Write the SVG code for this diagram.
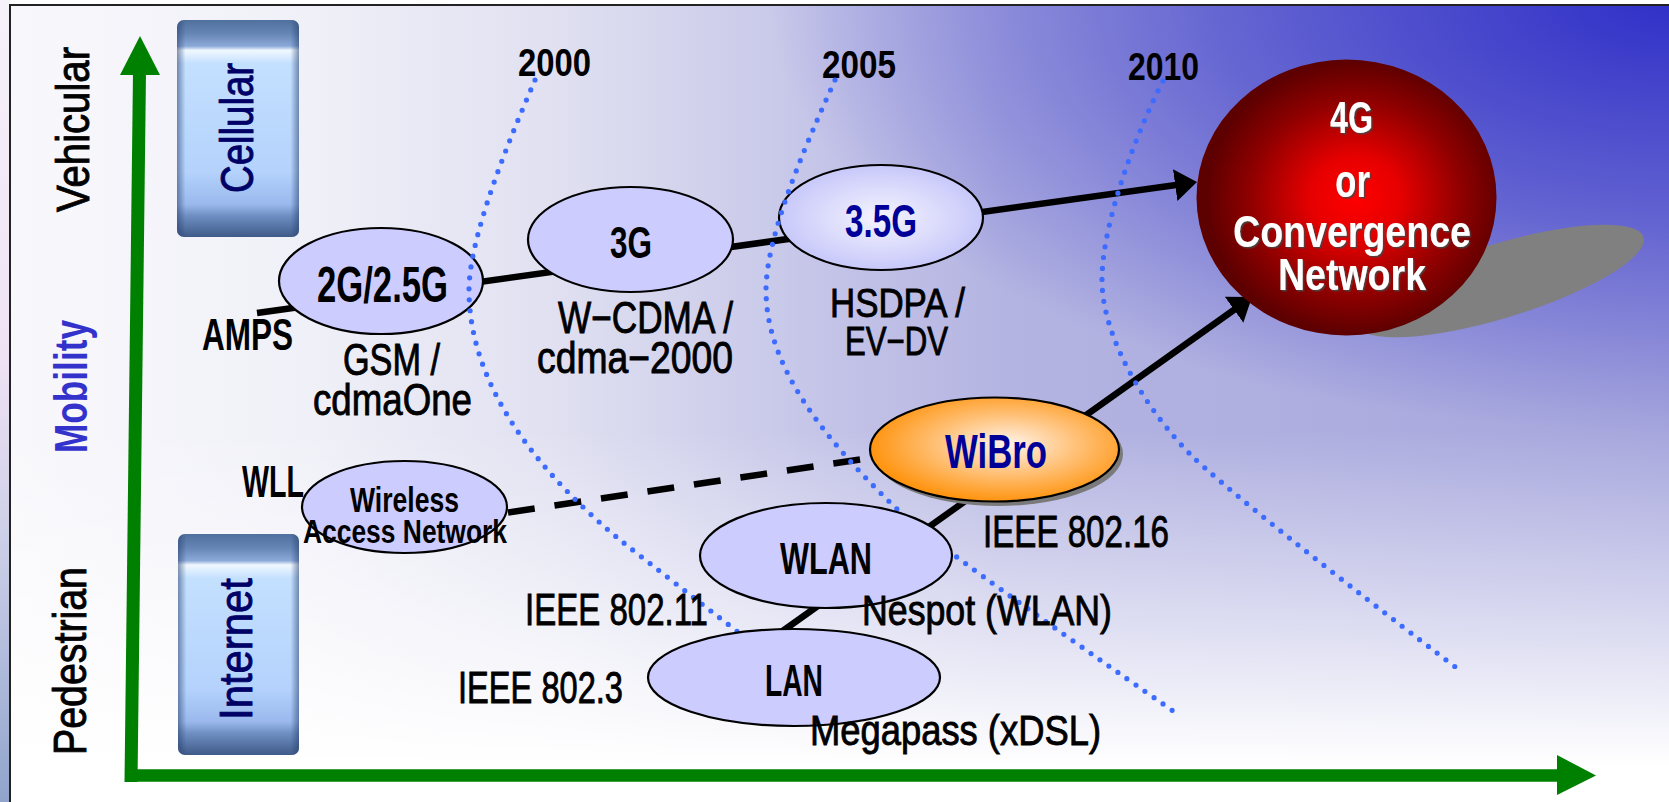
<svg xmlns="http://www.w3.org/2000/svg" width="1669" height="802" viewBox="0 0 1669 802">
<defs>
<style>
.t{font-family:"Liberation Sans",Arial,sans-serif;fill:#000}
.b{font-weight:bold}
.m{stroke:#000;stroke-width:0.9}
.node{fill:#ccccff;stroke:#000;stroke-width:2.2}
.conn{stroke:#000;stroke-width:6.5;fill:none}
.dash{stroke:#000;stroke-width:6.5;fill:none;stroke-dasharray:27 20}
.dots{fill:none;stroke:#3b6bff;stroke-width:5.2;stroke-linecap:round;stroke-dasharray:0 11}
.wt{fill:#fff;font-weight:bold;filter:url(#tsh)}
.axis{stroke:#008000;fill:none}
</style>
<linearGradient id="bgH" gradientUnits="userSpaceOnUse" x1="10" y1="0" x2="1669" y2="0">
<stop offset="0" stop-color="#f8f8fc"/>
<stop offset="0.18" stop-color="#f0f0f8"/>
<stop offset="0.33" stop-color="#e0e0f1"/>
<stop offset="0.48" stop-color="#c6c6e9"/>
<stop offset="0.6" stop-color="#b4b4e2"/>
<stop offset="1" stop-color="#a6a6dd"/>
</linearGradient>
<radialGradient id="bgBlob" gradientUnits="userSpaceOnUse" cx="1669" cy="0" r="900" gradientTransform="translate(1669,0) scale(1,0.48) translate(-1669,0)">
<stop offset="0" stop-color="#3030c8" stop-opacity="1"/>
<stop offset="0.5" stop-color="#3030c8" stop-opacity="0.58"/>
<stop offset="0.8" stop-color="#3030c8" stop-opacity="0.24"/>
<stop offset="1" stop-color="#3030c8" stop-opacity="0"/>
</radialGradient>
<linearGradient id="bgV" gradientUnits="userSpaceOnUse" x1="0" y1="430" x2="0" y2="765">
<stop offset="0" stop-color="#fff" stop-opacity="0"/>
<stop offset="1" stop-color="#fff" stop-opacity="1"/>
</linearGradient>
<linearGradient id="strip" x1="0" y1="0" x2="0" y2="1">
<stop offset="0" stop-color="#f6f2fa"/>
<stop offset="0.45" stop-color="#efe2f4"/>
<stop offset="0.7" stop-color="#c8cce6"/>
<stop offset="1" stop-color="#90a4cc"/>
</linearGradient>
<linearGradient id="boxV" x1="0" y1="0" x2="0" y2="1">
<stop offset="0" stop-color="#50709e"/>
<stop offset="0.06" stop-color="#6484b4"/>
<stop offset="0.12" stop-color="#8aa8d8"/>
<stop offset="0.14" stop-color="#f0f8ff"/>
<stop offset="0.2" stop-color="#c4e0ff"/>
<stop offset="0.7" stop-color="#b4d2fc"/>
<stop offset="0.85" stop-color="#9ab8ec"/>
<stop offset="0.9" stop-color="#7090c4"/>
<stop offset="1" stop-color="#3e5a88"/>
</linearGradient>
<linearGradient id="boxH" x1="0" y1="0" x2="1" y2="0">
<stop offset="0" stop-color="#28406e" stop-opacity="0.55"/>
<stop offset="0.07" stop-color="#28406e" stop-opacity="0"/>
<stop offset="0.93" stop-color="#28406e" stop-opacity="0"/>
<stop offset="1" stop-color="#28406e" stop-opacity="0.55"/>
</linearGradient>
<radialGradient id="g35" cx="0.5" cy="0.5" r="0.5">
<stop offset="0" stop-color="#f4f4ff"/>
<stop offset="1" stop-color="#c8c8fa"/>
</radialGradient>
<radialGradient id="gWi" cx="0.55" cy="0.45" r="0.55">
<stop offset="0" stop-color="#fff4ec"/>
<stop offset="0.5" stop-color="#ffc27a"/>
<stop offset="1" stop-color="#ff9410"/>
</radialGradient>
<radialGradient id="g4G" cx="0.53" cy="0.5" r="0.5">
<stop offset="0" stop-color="#ff0000"/>
<stop offset="0.3" stop-color="#e60000"/>
<stop offset="0.7" stop-color="#900000"/>
<stop offset="1" stop-color="#5c0000"/>
</radialGradient>
<filter id="tsh" x="-10%" y="-10%" width="130%" height="130%">
<feDropShadow dx="1.5" dy="1.5" stdDeviation="0.6" flood-color="#444" flood-opacity="0.9"/>
</filter>
<marker id="arrow" markerUnits="userSpaceOnUse" markerWidth="22" markerHeight="32" viewBox="0 0 22 32" refX="10" refY="16" orient="auto">
<path d="M0,0 L22,16 L0,32 Z" fill="#000"/>
</marker>
</defs>

<g id="background">
<rect x="0" y="0" width="1669" height="802" fill="#fff"/>
<rect x="0" y="0" width="10" height="802" fill="url(#strip)"/>
<rect x="10" y="5" width="1659" height="797" fill="url(#bgH)"/>
<rect x="10" y="5" width="1659" height="797" fill="url(#bgBlob)"/>
<rect x="10" y="5" width="1659" height="797" fill="url(#bgV)"/>
<path d="M10,802 V5 H1669" fill="none" stroke="#222" stroke-width="2"/>
</g>

<g id="axes">
<path class="axis" d="M139.5,72 L131,782" stroke-width="13"/>
<polygon points="120,75 160,75 140,36" fill="#008000"/>
<path class="axis" d="M125,775.5 H1560" stroke-width="12.5"/>
<polygon points="1557,755 1557,795 1596,775.5" fill="#008000"/>
</g>

<g id="axis-labels">
<text class="t m" font-size="46" text-anchor="middle" textLength="165" lengthAdjust="spacingAndGlyphs" transform="translate(89,129.5) rotate(-90)">Vehicular</text>
<text class="t b" font-size="46" text-anchor="middle" textLength="133" lengthAdjust="spacingAndGlyphs" transform="translate(87,386.5) rotate(-90)" style="fill:#3333cc">Mobility</text>
<text class="t m" font-size="47" text-anchor="middle" textLength="188" lengthAdjust="spacingAndGlyphs" transform="translate(86,661) rotate(-90)">Pedestrian</text>
</g>

<g id="cellular">
<rect x="177" y="20" width="122" height="217" rx="7" fill="url(#boxV)"/>
<rect x="177" y="20" width="122" height="217" rx="7" fill="url(#boxH)"/>
<text class="t" font-size="46" text-anchor="middle" textLength="130" lengthAdjust="spacingAndGlyphs" transform="translate(253,128) rotate(-90)" style="fill:#000066;stroke:#000066;stroke-width:0.9">Cellular</text>
</g>

<g id="internet">
<rect x="178" y="534" width="121" height="221" rx="7" fill="url(#boxV)"/>
<rect x="178" y="534" width="121" height="221" rx="7" fill="url(#boxH)"/>
<text class="t" font-size="47" text-anchor="middle" textLength="142" lengthAdjust="spacingAndGlyphs" transform="translate(252,649) rotate(-90)" style="fill:#000066;stroke:#000066;stroke-width:0.9">Internet</text>
</g>

<g id="years">
<text class="t b" font-size="39" x="518" y="76" textLength="73" lengthAdjust="spacingAndGlyphs">2000</text>
<text class="t b" font-size="39" x="822" y="78" textLength="74" lengthAdjust="spacingAndGlyphs">2005</text>
<text class="t b" font-size="39" x="1128" y="80" textLength="71" lengthAdjust="spacingAndGlyphs">2010</text>
</g>

<g id="connectors">
<path class="conn" d="M257,313 L1185.1,183.7" marker-end="url(#arrow)"/>
<path class="conn" d="M770,640 L1242.2,304" marker-end="url(#arrow)"/>
<path class="dash" d="M508,512.5 L870,458"/>
</g>

<g id="node-2g">
<ellipse class="node" cx="381" cy="281" rx="102" ry="53"/>
<text class="t b" font-size="50" x="382.5" y="302" text-anchor="middle" textLength="131" lengthAdjust="spacingAndGlyphs">2G/2.5G</text>
</g>

<g id="node-3g">
<ellipse class="node" cx="630.5" cy="239.5" rx="102.5" ry="52.5"/>
<text class="t b" font-size="45" x="631" y="258" text-anchor="middle" textLength="42" lengthAdjust="spacingAndGlyphs">3G</text>
</g>

<g id="node-35g">
<ellipse class="node" cx="881" cy="217.5" rx="102" ry="52.5" style="fill:url(#g35)"/>
<text class="t b" font-size="47" x="881" y="237" text-anchor="middle" textLength="72" lengthAdjust="spacingAndGlyphs" style="fill:#000099">3.5G</text>
</g>

<g id="timeline-curves">
<path class="dots" d="M535,80 C521,113 469,230 469,290 C469,400 560,490 620,540 C690,595 780,665 857,723"/>
<path class="dots" d="M835,80 C815,125 766,230 766,290 C766,370 830,445 900,512 C935,545 1100,660 1176,713"/>
<path class="dots" d="M1163,81 C1140,125 1102,220 1102,280 C1102,340 1150,415 1194,458 C1250,510 1400,625 1462,672"/>
</g>

<g id="node-wan">
<ellipse class="node" cx="404.5" cy="507" rx="102.5" ry="46"/>
<text class="t b" font-size="35" x="404.5" y="512" text-anchor="middle" textLength="109" lengthAdjust="spacingAndGlyphs">Wireless</text>
<text class="t b" font-size="33" x="405" y="543" text-anchor="middle" textLength="204" lengthAdjust="spacingAndGlyphs">Access Network</text>
</g>

<g id="node-wibro">
<ellipse cx="998.5" cy="454" rx="124.5" ry="52" fill="#7a7a7a"/>
<ellipse cx="994.5" cy="449.5" rx="124.5" ry="52" fill="url(#gWi)" stroke="#000" stroke-width="2.2"/>
<text class="t b" font-size="48" x="996" y="468" text-anchor="middle" textLength="102" lengthAdjust="spacingAndGlyphs" style="fill:#000099">WiBro</text>
</g>

<g id="node-wlan">
<ellipse class="node" cx="826" cy="555.5" rx="126" ry="52.5"/>
<text class="t b" font-size="44" x="826" y="574" text-anchor="middle" textLength="92" lengthAdjust="spacingAndGlyphs">WLAN</text>
</g>

<g id="node-lan">
<ellipse class="node" cx="794" cy="677.5" rx="146" ry="48.5"/>
<text class="t b" font-size="44" x="794" y="696" text-anchor="middle" textLength="58" lengthAdjust="spacingAndGlyphs">LAN</text>
</g>

<g id="node-4g">
<ellipse cx="1500" cy="281" rx="150" ry="37" fill="#808080" transform="rotate(-17 1500 281)"/>
<ellipse cx="1346.5" cy="197.5" rx="150" ry="138" fill="url(#g4G)"/>
<text class="t wt" font-size="44" x="1351.5" y="133" text-anchor="middle" textLength="43" lengthAdjust="spacingAndGlyphs">4G</text>
<text class="t wt" font-size="46" x="1352.5" y="197" text-anchor="middle" textLength="35" lengthAdjust="spacingAndGlyphs">or</text>
<text class="t wt" font-size="44" x="1352" y="247" text-anchor="middle" textLength="238" lengthAdjust="spacingAndGlyphs">Convergence</text>
<text class="t wt" font-size="44" x="1352" y="290" text-anchor="middle" textLength="148" lengthAdjust="spacingAndGlyphs">Network</text>
</g>

<g id="labels">
<text class="t b" font-size="45" x="202" y="350" textLength="91" lengthAdjust="spacingAndGlyphs">AMPS</text>
<text class="t m" font-size="44" x="343" y="375" textLength="97" lengthAdjust="spacingAndGlyphs">GSM /</text>
<text class="t m" font-size="44" x="313" y="415" textLength="159" lengthAdjust="spacingAndGlyphs">cdmaOne</text>
<text class="t m" font-size="44" x="558" y="333" textLength="175" lengthAdjust="spacingAndGlyphs">W−CDMA /</text>
<text class="t m" font-size="44" x="537" y="373" textLength="196" lengthAdjust="spacingAndGlyphs">cdma−2000</text>
<text class="t m" font-size="41" x="830" y="317" textLength="135" lengthAdjust="spacingAndGlyphs">HSDPA /</text>
<text class="t m" font-size="41" x="845" y="355" textLength="103" lengthAdjust="spacingAndGlyphs">EV−DV</text>
<text class="t b" font-size="45" x="242" y="497" textLength="62" lengthAdjust="spacingAndGlyphs">WLL</text>
<text class="t m" font-size="45" x="983" y="547" textLength="186" lengthAdjust="spacingAndGlyphs">IEEE 802.16</text>
<text class="t m" font-size="42" x="862" y="625" textLength="250" lengthAdjust="spacingAndGlyphs">Nespot (WLAN)</text>
<text class="t m" font-size="45" x="525" y="625" textLength="183" lengthAdjust="spacingAndGlyphs">IEEE 802.11</text>
<text class="t m" font-size="45" x="458" y="703" textLength="165" lengthAdjust="spacingAndGlyphs">IEEE 802.3</text>
<text class="t m" font-size="43" x="810" y="745" textLength="291" lengthAdjust="spacingAndGlyphs">Megapass (xDSL)</text>
</g>
</svg>
